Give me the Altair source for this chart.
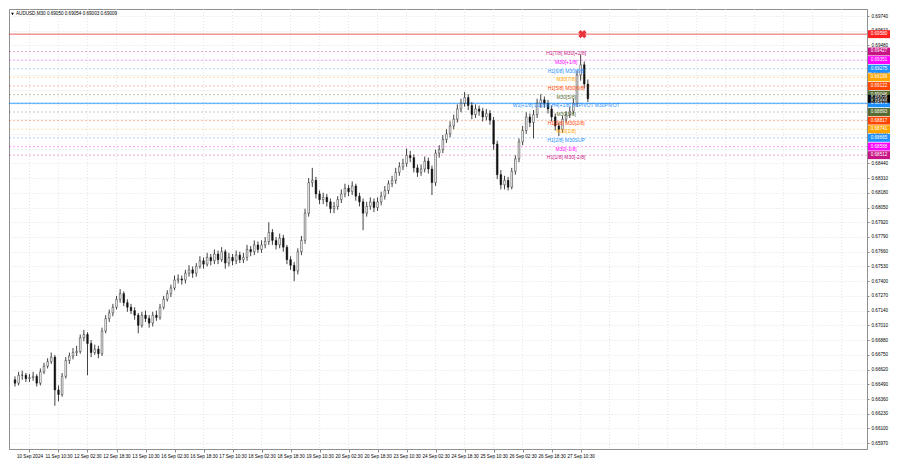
import altair as alt
import pandas as pd

# ---------------- data (AUDUSD M30 chart, sampled as 2-hour OHLC bars) ----------------
first_open = 0.6653
closes = [0.6650, 0.6657, 0.6657, 0.6654, 0.6655, 0.6656, 0.6650, 0.6660, 0.6665, 0.6669,
          0.6673, 0.6644, 0.6640, 0.6656, 0.6670, 0.6674, 0.6677, 0.6678, 0.6690, 0.6693,
          0.6685, 0.6677, 0.6680, 0.6676, 0.6696, 0.6707, 0.6712, 0.6717, 0.6724, 0.6729,
          0.6721, 0.6717, 0.6714, 0.6710, 0.6701, 0.6710, 0.6707, 0.6703, 0.6710, 0.6708,
          0.6717, 0.6724, 0.6729, 0.6734, 0.6741, 0.6742, 0.6741, 0.6747, 0.6750, 0.6747,
          0.6753, 0.6758, 0.6755, 0.6761, 0.6758, 0.6764, 0.6759, 0.6766, 0.6756, 0.6761,
          0.6758, 0.6763, 0.6759, 0.6761, 0.6768, 0.6766, 0.6772, 0.6768, 0.6772, 0.6775,
          0.6783, 0.6776, 0.6772, 0.6778, 0.6770, 0.6759, 0.6754, 0.6749, 0.6766, 0.6776,
          0.6800, 0.6827, 0.6829, 0.6817, 0.6812, 0.6814, 0.6810, 0.6804, 0.6806, 0.6812,
          0.6817, 0.6822, 0.6819, 0.6824, 0.6815, 0.6810, 0.6800, 0.6806, 0.6810, 0.6805,
          0.6810, 0.6815, 0.6820, 0.6826, 0.6829, 0.6836, 0.6841, 0.6844, 0.6851, 0.6849,
          0.6840, 0.6836, 0.6839, 0.6846, 0.6839, 0.6827, 0.6853, 0.6856, 0.6865, 0.6870,
          0.6877, 0.6883, 0.6892, 0.6897, 0.6902, 0.6895, 0.6887, 0.6892, 0.6890, 0.6885,
          0.6888, 0.6882, 0.6861, 0.6834, 0.6825, 0.6829, 0.6823, 0.6837, 0.6848, 0.6863,
          0.6873, 0.6885, 0.6880, 0.6887, 0.6897, 0.6900, 0.6897, 0.6892, 0.6885, 0.6877,
          0.6874, 0.6883, 0.6887, 0.6890, 0.6897, 0.6922, 0.6931, 0.6914, 0.69009]
highs = [0.6656, 0.6660, 0.6661, 0.6659, 0.6658, 0.6660, 0.6658, 0.6663, 0.6668, 0.6672,
         0.6677, 0.6675, 0.6648, 0.6659, 0.6673, 0.6677, 0.6681, 0.6683, 0.6693, 0.6697,
         0.6695, 0.6688, 0.6684, 0.6683, 0.6699, 0.6710, 0.6715, 0.6720, 0.6727, 0.6733,
         0.6731, 0.6724, 0.6720, 0.6717, 0.6712, 0.6713, 0.6714, 0.6710, 0.6713, 0.6714,
         0.6720, 0.6727, 0.6732, 0.6737, 0.6745, 0.6746, 0.6745, 0.6750, 0.6754, 0.6753,
         0.6756, 0.6762, 0.6761, 0.6765, 0.6764, 0.6768, 0.6767, 0.6770, 0.6768, 0.6765,
         0.6764, 0.6767, 0.6766, 0.6765, 0.6772, 0.6771, 0.6776, 0.6775, 0.6776, 0.6779,
         0.6792, 0.6786, 0.6779, 0.6782, 0.6781, 0.6772, 0.6762, 0.6757, 0.6769, 0.6780,
         0.6804, 0.6831, 0.6840, 0.6832, 0.6820, 0.6818, 0.6817, 0.6813, 0.6810, 0.6815,
         0.6821, 0.6826, 0.6825, 0.6828, 0.6826, 0.6818, 0.6813, 0.6810, 0.6814, 0.6813,
         0.6814, 0.6819, 0.6824, 0.6829, 0.6833, 0.6840, 0.6845, 0.6848, 0.6857, 0.6855,
         0.6852, 0.6843, 0.6843, 0.6850, 0.6849, 0.6842, 0.6856, 0.6860, 0.6869, 0.6874,
         0.6881, 0.6887, 0.6896, 0.6901, 0.6907, 0.6905, 0.6898, 0.6896, 0.6895, 0.6893,
         0.6892, 0.6891, 0.6885, 0.6864, 0.6838, 0.6833, 0.6832, 0.6840, 0.6851, 0.6866,
         0.6877, 0.6889, 0.6888, 0.6891, 0.6901, 0.6905, 0.6903, 0.6900, 0.6895, 0.6888,
         0.6880, 0.6886, 0.6890, 0.6894, 0.6901, 0.6926, 0.6940, 0.6934, 0.6918]
lows = [0.6647, 0.6648, 0.6653, 0.6651, 0.6651, 0.6652, 0.6647, 0.6648, 0.6658, 0.6663,
        0.6667, 0.6630, 0.6634, 0.6638, 0.6654, 0.6667, 0.6671, 0.6674, 0.6676, 0.6687,
        0.6657, 0.6673, 0.6675, 0.6672, 0.6674, 0.6694, 0.6704, 0.6709, 0.6715, 0.6721,
        0.6718, 0.6713, 0.6711, 0.6706, 0.6694, 0.6699, 0.6704, 0.6699, 0.6700, 0.6705,
        0.6706, 0.6715, 0.6722, 0.6726, 0.6732, 0.6738, 0.6737, 0.6738, 0.6744, 0.6743,
        0.6744, 0.6751, 0.6751, 0.6753, 0.6754, 0.6755, 0.6755, 0.6757, 0.6751, 0.6753,
        0.6754, 0.6755, 0.6756, 0.6756, 0.6758, 0.6762, 0.6763, 0.6765, 0.6765, 0.6769,
        0.6772, 0.6772, 0.6768, 0.6769, 0.6766, 0.6755, 0.6750, 0.6740, 0.6746, 0.6763,
        0.6773, 0.6797, 0.6823, 0.6813, 0.6808, 0.6808, 0.6806, 0.6800, 0.6800, 0.6803,
        0.6809, 0.6814, 0.6815, 0.6816, 0.6811, 0.6806, 0.6785, 0.6797, 0.6803, 0.6801,
        0.6802, 0.6807, 0.6812, 0.6817, 0.6823, 0.6826, 0.6833, 0.6838, 0.6841, 0.6845,
        0.6836, 0.6832, 0.6833, 0.6836, 0.6835, 0.6816, 0.6824, 0.6849, 0.6853, 0.6862,
        0.6867, 0.6874, 0.6880, 0.6889, 0.6894, 0.6891, 0.6883, 0.6884, 0.6886, 0.6881,
        0.6882, 0.6878, 0.6856, 0.6830, 0.6821, 0.6821, 0.6820, 0.6821, 0.6834, 0.6845,
        0.6860, 0.6870, 0.6876, 0.6866, 0.6884, 0.6893, 0.6893, 0.6888, 0.6881, 0.6873,
        0.6868, 0.6871, 0.6880, 0.6884, 0.6887, 0.6894, 0.6917, 0.6910, 0.6898]

time_labels = ["10 Sep 2024", "11 Sep 10:30", "12 Sep 02:30", "12 Sep 18:30", "13 Sep 10:30",
               "16 Sep 02:30", "16 Sep 18:30", "17 Sep 10:30", "18 Sep 02:30", "18 Sep 18:30",
               "19 Sep 10:30", "20 Sep 02:30", "20 Sep 18:30", "23 Sep 10:30", "24 Sep 02:30",
               "24 Sep 18:30", "25 Sep 10:30", "26 Sep 02:30", "26 Sep 18:30", "27 Sep 10:30"]

level_prices = [0.69427, 0.69351, 0.69275, 0.69199, 0.69122, 0.69046, 0.68970,
                0.68893, 0.68817, 0.68741, 0.68665, 0.68588, 0.68512]
level_names = ["H1[7/8] M30[+2/8]", "M30[+1/8]", "H1[6/8] M30[8/8]", "M30[7/8]",
               "H1[5/8] M30[6/8]", "M30[5/8]", "W1[+1/8] D1[8/8] H4[+1/8] H1PIVOT M30PIVOT",
               "M30[3/8]", "H1[3/8] M30[2/8]", "M30[1/8]", "H1[2/8] M30SUP", "M30[-1/8]",
               "H1[1/8] M30[-2/8]"]
level_colors = ["#c71585", "#ff00ff", "#1e90ff", "#ffa500", "#ff4500", "#556b2f", "#1e90ff",
                "#556b2f", "#ff4500", "#ffa500", "#1e90ff", "#ff00ff", "#c71585"]

target_price = 0.69580
current_price = 0.69009
title_text = "AUDUSD,M30  0.69050 0.69054 0.69003 0.69009"
# price-scale labels that sit fully under a coloured price box in the reference
covered_ticks = ["0.69350", "0.69090", "0.68960", "0.68830", "0.68570"]

# ---------------- layout ----------------
W, H = 858, 440
FONT = "Liberation Sans"
xs = alt.Scale(domain=[-0.27, 233.6], nice=False, zero=False)
ys = alt.Scale(domain=[0.65919, 0.69802], nice=False, zero=False)

tick_ks = [4 + 8 * j for j in range(len(time_labels))]
grid_ks = [4 + 8 * j for j in range(29)]
ytick_vals = [round(0.65970 + 0.0013 * m, 5) for m in range(30)]
label_expr = "[" + ",".join("'%s'" % s for s in time_labels) + "][round((datum.value - 4) / 8)]"
ylabel_expr = ("indexof([" + ",".join("'%s'" % s for s in covered_ticks) +
               "], format(datum.value, '.5f')) >= 0 ? '' : format(datum.value, '.5f')")

xaxis = alt.Axis(title=None, values=tick_ks, labelExpr=label_expr, grid=False,
                 labelFontSize=4.6, labelFont=FONT, labelColor="black", tickSize=3,
                 tickColor="#888888", domainColor="#909090", labelPadding=1,
                 labelFlush=False, labelOverlap=False)
yaxis = alt.Axis(title=None, orient="right", values=ytick_vals, labelExpr=ylabel_expr,
                 grid=True, gridColor="#d8d8d8", gridDash=[1, 2], gridWidth=0.7,
                 labelFontSize=4.6, labelFont=FONT, labelColor="black", tickSize=2,
                 tickColor="#888888", labelPadding=2, domainColor="#909090",
                 labelOverlap=False)

opens = [first_open] + closes[:-1]
bars = pd.DataFrame({"k": list(range(len(closes))), "open": opens, "high": highs,
                     "low": lows, "close": closes})
levels = pd.DataFrame({"price": level_prices, "name": level_names, "color": level_colors,
                       "tk": [152] * len(level_prices)})
levels["label"] = levels["price"].map(lambda v: "%.5f" % v)
pivot = levels[levels["price"] == 0.68970]
boxes = pd.concat([levels[["price", "color", "label"]],
                   pd.DataFrame({"price": [target_price, current_price],
                                 "color": ["#ff2020", "#000000"],
                                 "label": ["%.5f" % target_price, "%.5f" % current_price]})])
vgrid = pd.DataFrame({"k": grid_ks})

X = lambda f: alt.X(f, scale=xs, axis=xaxis)
Y = lambda f: alt.Y(f, scale=ys, axis=yaxis)

grid_layer = alt.Chart(vgrid).mark_rule(color="#d8d8d8", strokeDash=[1, 2], strokeWidth=0.7).encode(
    x=X("k:Q"))
level_rules = alt.Chart(levels).mark_rule(strokeDash=[2, 2], strokeWidth=0.8, opacity=0.45).encode(
    y=Y("price:Q"), color=alt.Color("color:N", scale=None))
pivot_rule = alt.Chart(pivot).mark_rule(strokeWidth=1, color="#1e90ff", opacity=0.8).encode(
    y=Y("price:Q"))
red_rule = alt.Chart(pd.DataFrame({"price": [target_price]})).mark_rule(
    strokeWidth=1, color="#e84040", opacity=0.85).encode(y=Y("price:Q"))
wicks = alt.Chart(bars).mark_rule(color="#111111", strokeWidth=0.8).encode(
    x=X("k:Q"), y=Y("low:Q"), y2="high:Q")
bodies = alt.Chart(bars).mark_bar(width=1.7, stroke="#111111", strokeWidth=0.45).encode(
    x=X("k:Q"), y=Y("open:Q"), y2="close:Q",
    fill=alt.condition("datum.close >= datum.open", alt.value("white"), alt.value("#111111")))
level_text = alt.Chart(levels).mark_text(fontSize=5, font=FONT, align="center",
                                         baseline="middle", dy=2).encode(
    x=X("tk:Q"), y=Y("price:Q"), text="name:N", color=alt.Color("color:N", scale=None))
red_x = alt.Chart(pd.DataFrame({"k": [156.5], "price": [target_price]})).mark_point(
    shape="cross", angle=45, filled=True, size=70, color="#e8333a", opacity=1).encode(
    x=X("k:Q"), y=Y("price:Q"))
box_layer = alt.Chart(boxes).mark_point(
    shape="M-1,-0.36L1,-0.36L1,0.36L-1,0.36Z", size=484, filled=True, opacity=1,
    strokeWidth=0).encode(x=alt.value(W + 12), y=Y("price:Q"),
                          color=alt.Color("color:N", scale=None))
box_text = alt.Chart(boxes).mark_text(fontSize=4.6, font=FONT, color="white", align="center",
                                      baseline="middle").encode(
    x=alt.value(W + 12), y=Y("price:Q"), text="label:N")
title_layer = alt.Chart(pd.DataFrame({"t": [title_text]})).mark_text(
    fontSize=4.6, font=FONT, align="left", baseline="middle", color="black").encode(
    x=alt.value(7), y=alt.value(5), text="t:N")
tri = alt.Chart(pd.DataFrame({"t": [1]})).mark_point(
    shape="triangle-down", filled=True, size=8, color="black", opacity=1).encode(
    x=alt.value(3.5), y=alt.value(5))

chart = alt.layer(grid_layer, level_rules, pivot_rule, red_rule, wicks, bodies, level_text,
                  red_x, box_layer, box_text, title_layer, tri).properties(
    width=W, height=H, padding={"left": 0, "top": 0, "right": 1, "bottom": 1}
).configure_view(stroke="#909090", strokeWidth=1)

chart.save("out.html", embed_options={"renderer": "svg", "actions": False})
